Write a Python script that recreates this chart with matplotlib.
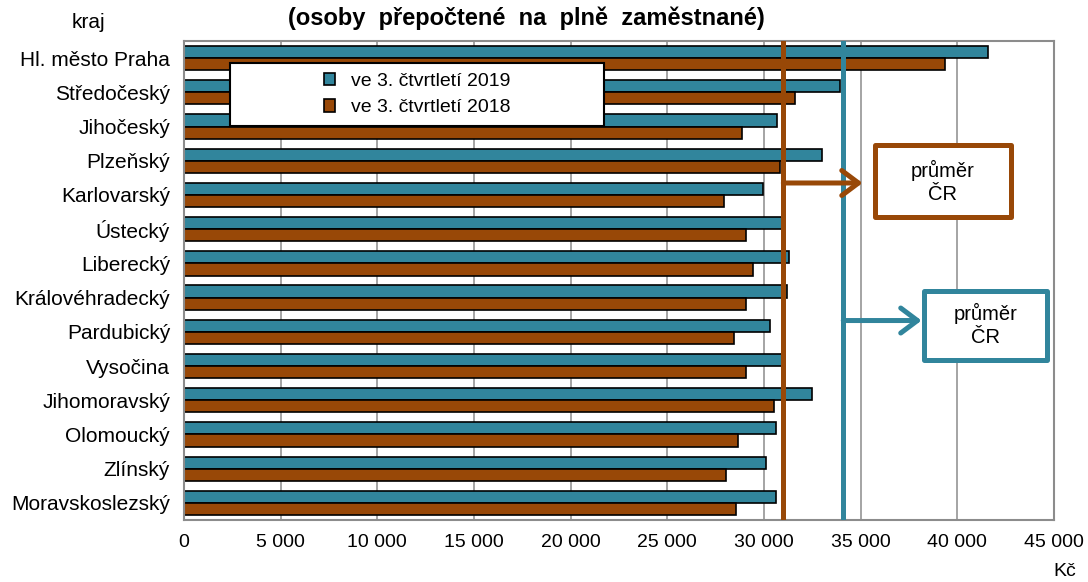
import numpy as np
import matplotlib
matplotlib.use("Agg")
import matplotlib.pyplot as plt
from matplotlib.patches import Rectangle

plt.rcParams['font.family'] = ['Liberation Sans', 'DejaVu Sans']

# data
regions = ["Hl. město Praha", "Středočeský", "Jihočeský", "Plzeňský", "Karlovarský",
           "Ústecký", "Liberecký", "Královéhradecký", "Pardubický", "Vysočina",
           "Jihomoravský", "Olomoucký", "Zlínský", "Moravskoslezský"]
w2019 = [41600, 33950, 30650, 33000, 29950, 31100, 31300, 31200, 30300, 30950,
         32500, 30600, 30100, 30600]
w2018 = [39350, 31600, 28850, 30850, 27950, 29050, 29450, 29050, 28450, 29050,
         30500, 28650, 28050, 28550]
avg2019 = 34100
avg2018 = 31000
labels = ["ve 3. čtvrtletí 2019", "ve 3. čtvrtletí 2018"]
xticks = np.arange(0, 45001, 5000)

teal = '#31859c'
brown = '#984807'
grey = '#8c8c8c'

fig = plt.figure(figsize=(10.88, 5.82), dpi=100)
ax = fig.add_axes([184/1088, 1-520/582, 870/1088, 479/582])

y = np.arange(len(regions))
h = 0.355
b1 = ax.barh(y - h/2, w2019, height=h, color=teal, edgecolor='black', linewidth=1.2,
             label=labels[0], zorder=2)
b2 = ax.barh(y + h/2, w2018, height=h, color=brown, edgecolor='black', linewidth=1.2,
             label=labels[1], zorder=2)

ax.set_ylim(len(regions) - 0.5, -0.5)
ax.set_xlim(0, 45000)
ax.set_yticks(y)
ax.set_yticklabels(regions, fontsize=15)
ax.set_xticks(xticks)
ax.set_xticklabels(['{:,}'.format(v).replace(',', ' ') for v in xticks], fontsize=14)
ax.tick_params(length=0)
ax.tick_params(axis='y', pad=10)
ax.tick_params(axis='x', pad=10)
ax.grid(axis='x', color=grey, linewidth=1.1, zorder=0)
ax.set_axisbelow(True)
for s in ax.spines.values():
    s.set_color(grey)
    s.set_linewidth(1.5)

# average lines
ax.axvline(avg2018, color=brown, linewidth=3.6, zorder=3)
ax.axvline(avg2019, color=teal, linewidth=3.6, zorder=3)

# arrows + boxes
arrow_style = '->,head_length=0.6,head_width=0.45'
ax.annotate('', xy=(35100, 3.65), xytext=(avg2018, 3.65),
            arrowprops=dict(arrowstyle=arrow_style, mutation_scale=20,
                            color=brown, lw=3.6, shrinkA=0, shrinkB=0), zorder=4)
ax.add_patch(Rectangle((35750, 2.54), 7050, 2.1, facecolor='white', edgecolor=brown,
                       linewidth=3.6, zorder=4, joinstyle='round'))
ax.text(39250, 3.62, 'průměr\nČR', ha='center', va='center', fontsize=14.5,
        linespacing=1.3, zorder=5)

ax.annotate('', xy=(38150, 7.67), xytext=(avg2019, 7.67),
            arrowprops=dict(arrowstyle=arrow_style, mutation_scale=20,
                            color=teal, lw=3.6, shrinkA=0, shrinkB=0), zorder=4)
ax.add_patch(Rectangle((38300, 6.82), 6350, 2.0, facecolor='white', edgecolor=teal,
                       linewidth=3.6, zorder=4, joinstyle='round'))
ax.text(41450, 7.8, 'průměr\nČR', ha='center', va='center', fontsize=14.5,
        linespacing=1.3, zorder=5)

# legend
ax.add_patch(Rectangle((46/870, 1-85/479), 374/870, 63/479, transform=ax.transAxes,
                       facecolor='white', edgecolor='black', linewidth=1.5, zorder=4))
leg = ax.legend(handles=[b1, b2], loc='center', bbox_to_anchor=(233/870, 1-53.5/479),
                frameon=False, fontsize=14, handlelength=0.6, handleheight=0.6,
                handletextpad=0.8, labelspacing=0.5)
leg.set_zorder(6)

fig.text(526/1088, 1-18/582, '(osoby  přepočtené  na  plně  zaměstnané)', ha='center',
         va='center', fontsize=17, fontweight='bold')
fig.text(88/1088, 1-22/582, 'kraj', ha='center', va='center', fontsize=15)
fig.text(1065/1088, 1-572/582, 'Kč', ha='center', va='center', fontsize=14)

fig.savefig('out.png', dpi=100)
